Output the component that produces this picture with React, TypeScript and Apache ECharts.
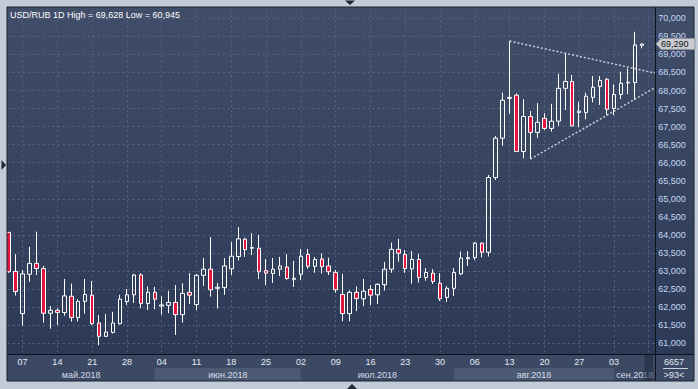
import React, { useEffect, useRef } from 'react';
import * as echarts from 'echarts';

// ---- data (trading days, USD/RUB daily) ----
const dates = [
  '2018-05-03', '2018-05-04',
  '2018-05-07', '2018-05-08', '2018-05-09', '2018-05-10', '2018-05-11',
  '2018-05-14', '2018-05-15', '2018-05-16', '2018-05-17', '2018-05-18',
  '2018-05-21', '2018-05-22', '2018-05-23', '2018-05-24', '2018-05-25',
  '2018-05-28', '2018-05-29', '2018-05-30', '2018-05-31', '2018-06-01',
  '2018-06-04', '2018-06-05', '2018-06-06', '2018-06-07', '2018-06-08',
  '2018-06-11', '2018-06-12', '2018-06-13', '2018-06-14', '2018-06-15',
  '2018-06-18', '2018-06-19', '2018-06-20', '2018-06-21', '2018-06-22',
  '2018-06-25', '2018-06-26', '2018-06-27', '2018-06-28', '2018-06-29',
  '2018-07-02', '2018-07-03', '2018-07-04', '2018-07-05', '2018-07-06',
  '2018-07-09', '2018-07-10', '2018-07-11', '2018-07-12', '2018-07-13',
  '2018-07-16', '2018-07-17', '2018-07-18', '2018-07-19', '2018-07-20',
  '2018-07-23', '2018-07-24', '2018-07-25', '2018-07-26', '2018-07-27',
  '2018-07-30', '2018-07-31', '2018-08-01', '2018-08-02', '2018-08-03',
  '2018-08-06', '2018-08-07', '2018-08-08', '2018-08-09', '2018-08-10',
  '2018-08-13', '2018-08-14', '2018-08-15', '2018-08-16', '2018-08-17',
  '2018-08-20', '2018-08-21', '2018-08-22', '2018-08-23', '2018-08-24',
  '2018-08-27', '2018-08-28', '2018-08-29', '2018-08-30', '2018-08-31',
  '2018-09-03', '2018-09-04', '2018-09-05', '2018-09-06', '2018-09-07',
];

const opens = [
  64.07, 62.99, 61.82, 62.91, 63.21, 63.07, 61.83, 61.91, 61.85, 62.30, 61.71, 62.16, 62.33, 61.56, 61.19, 61.30, 61.54, 62.15, 62.34, 62.89, 62.10, 62.41,
  62.03, 62.05, 62.13, 61.79, 62.41, 62.07, 62.88, 63.05, 62.52, 62.54, 63.06, 63.40, 63.88, 63.63, 63.63, 63.01, 62.93, 63.05, 63.11, 62.77,
  62.91, 63.46, 63.13, 63.33, 63.14, 62.96, 62.35, 61.82, 62.41, 62.23, 62.49, 62.34, 62.62, 63.05, 63.60, 63.46, 63.06, 63.32, 62.82, 62.94, 62.66, 62.27,
  62.52, 62.92, 63.34, 63.37, 63.77, 63.52, 65.59, 66.68, 67.78, 67.87, 66.31, 67.28, 66.84, 67.23, 66.95, 67.15, 68.06, 68.25, 67.39, 67.39, 67.81, 68.11, 68.31,
  67.50, 67.89, 68.21, 68.22, 69.25,
];
const closes = [
  62.98, 62.43, 62.92, 63.21, 63.07, 61.83, 61.91, 61.85, 62.31, 61.71, 62.16, 62.35, 61.54, 61.19, 61.31, 61.56, 62.22, 62.34, 62.89, 62.10, 62.41, 62.22,
  62.06, 62.13, 61.79, 62.38, 62.33, 62.88, 63.05, 62.48, 62.55, 63.14, 63.41, 63.89, 63.59, 63.65, 62.98, 62.94, 63.05, 63.14, 62.79, 62.80,
  63.41, 63.13, 63.32, 63.12, 62.98, 62.48, 61.82, 62.41, 62.24, 62.44, 62.33, 62.63, 63.05, 63.60, 63.49, 63.07, 63.32, 62.82, 62.96, 62.71, 62.23, 62.52,
  62.96, 63.36, 63.37, 63.77, 63.52, 65.59, 66.68, 67.73, 67.81, 66.31, 67.28, 66.84, 67.12, 66.95, 67.15, 68.06, 68.25, 67.02, 67.43, 67.84, 68.09, 68.28, 67.48,
  67.89, 68.20, 68.23, 69.26, 69.29,
];
const lows = [
  62.95, 62.32, 61.49, 62.70, 62.89, 61.57, 61.40, 61.51, 61.76, 61.60, 61.60, 61.82, 61.50, 60.945, 61.17, 61.27, 61.52, 62.06, 62.12, 61.97, 61.92, 61.94,
  61.79, 61.83, 61.23, 61.57, 62.09, 61.92, 62.59, 62.29, 61.96, 62.34, 62.89, 63.29, 63.39, 63.44, 62.78, 62.61, 62.67, 62.86, 62.76, 62.56,
  62.75, 63.06, 62.95, 62.93, 62.89, 62.40, 61.61, 61.61, 61.89, 62.03, 62.06, 62.09, 62.46, 62.95, 63.26, 62.95, 62.65, 62.68, 62.73, 62.64, 62.17, 62.14,
  62.31, 62.89, 63.14, 63.30, 63.38, 63.40, 65.52, 66.47, 67.35, 66.30, 66.12, 66.10, 66.69, 66.91, 66.86, 67.02, 67.46, 67.01, 66.98, 67.20, 67.67, 67.60, 67.32,
  67.32, 67.76, 67.90, 67.74, 69.17,
];
const highs = [
  64.08, 63.47, 63.03, 63.67, 64.09, 63.14, 62.03, 61.97, 62.78, 62.65, 62.22, 62.78, 62.72, 61.78, 61.81, 61.87, 62.34, 62.50, 62.92, 62.94, 62.57, 62.56,
  62.30, 62.45, 62.61, 62.66, 62.94, 62.92, 63.36, 63.94, 62.67, 63.36, 63.80, 64.22, 63.92, 64.05, 64.00, 63.33, 63.36, 63.39, 63.47, 63.28,
  63.61, 63.61, 63.39, 63.49, 63.37, 63.03, 62.92, 62.46, 62.57, 62.78, 62.61, 62.66, 63.25, 63.79, 63.89, 63.58, 63.55, 63.47, 63.08, 63.05, 62.94, 62.58,
  63.08, 63.54, 63.55, 63.80, 63.80, 65.66, 66.74, 67.94, 69.37, 67.92, 67.76, 67.43, 67.65, 67.37, 67.63, 68.46, 69.03, 68.43, 67.69, 67.94, 68.40, 68.40, 68.35,
  68.17, 68.52, 68.61, 69.628, 69.30,
];

// trading-day offset of each candle (first Monday shown = 0)
const dayOffset = dates.map((_, i) => i - 2);

// triangle trend lines: [dayOffset, price]
const upperTrend = [[70, 69.37], [91, 68.48]];
const lowerTrend = [[73, 66.10], [91, 68.09]];

const monthKeys = ['05', '06', '07', '08', '09'];
const monthLabels = ['май.2018', 'июн.2018', 'июл.2018', 'авг.2018', 'сен.2018'];

const titleText = 'USD/RUB 1D High = 69,628 Low = 60,945';
const lastPrice = 69.29;
const footerTop = '6657';
const footerBottom = '>93<';

const FONT = '"Liberation Sans", Arial, sans-serif';
const fmt = (v: number) => v.toFixed(3).replace('.', ',');

export default function App() {
  const ref = useRef<HTMLDivElement>(null);

  useEffect(() => {
    const el = ref.current;
    if (!el) return;
    const chart = echarts.init(el, null, { renderer: 'svg' });

    const candles = dates.map((_, i) => [dayOffset[i], opens[i], closes[i], lows[i], highs[i]]);

    chart.setOption({
      animation: false,
      backgroundColor: '#35425e',
      grid: {
        left: -12.2,
        right: 42.3,
        top: 0.25,
        bottom: 27.75,
        containLabel: false,
        outerBoundsMode: 'none',
      },
      xAxis: [
        {
          type: 'value',
          min: -5,
          max: 91,
          interval: 5,
          axisLine: { show: false },
          axisTick: { show: false },
          axisLabel: { show: false },
          splitLine: { show: true, lineStyle: { color: '#56647f', type: [2, 3], width: 1 } },
        },
        {
          type: 'value',
          position: 'bottom',
          offset: -7.25,
          min: -5,
          max: 91,
          interval: 5,
          z: 10,
          axisLine: { show: false, onZero: false },
          axisTick: { show: false },
          splitLine: { show: false },
          axisLabel: {
            show: true,
            margin: 3,
            color: '#e6ebf3',
            fontSize: 9,
            fontFamily: FONT,
            showMinLabel: false,
            showMaxLabel: false,
            formatter: (v: number) => {
              const d = dates[Math.round(v) + 2];
              return d ? d.slice(8) : '';
            },
          },
        },
      ],
      yAxis: {
        type: 'value',
        position: 'right',
        min: 60.5,
        max: 70.5,
        interval: 0.5,
        axisLine: { show: false },
        axisTick: { show: false },
        splitLine: { show: true, lineStyle: { color: '#56647f', type: [2, 3], width: 1 } },
        axisLabel: {
          margin: 2.5,
          color: '#c4d7f2',
          fontSize: 9,
          fontFamily: FONT,
          showMinLabel: false,
          showMaxLabel: false,
          formatter: (v: number) => fmt(v),
        },
      },
      series: [
        {
          type: 'candlestick',
          data: candles,
          encode: { x: 0, y: [1, 2, 3, 4] },
          barWidth: 4,
          itemStyle: {
            color: 'rgba(0,0,0,0)',
            color0: '#e2173f',
            borderColor: '#ffffff',
            borderColor0: '#ffffff',
            borderWidth: 1,
          },
          markLine: {
            silent: true,
            symbol: ['none', 'none'],
            label: { show: false },
            lineStyle: { color: '#c9cdd4', type: [2, 2], width: 1.5 },
            data: [
              [{ coord: upperTrend[0] }, { coord: upperTrend[1] }],
              [{ coord: lowerTrend[0] }, { coord: lowerTrend[1] }],
            ],
          },
        },
      ],
    });

    const px = (v: number) => chart.convertToPixel({ xAxisIndex: 0 }, v) as unknown as number;
    const py = (v: number) => chart.convertToPixel({ yAxisIndex: 0 }, v) as unknown as number;

    const PL = 7.5, PR = 655.5, AX = 354, BB = 381, FR = 694;

    const elements: any[] = [];
    // background
    elements.push({
      type: 'rect', z: -10,
      shape: { x: 0, y: 0, width: 698, height: 389 },
      style: {
        fill: new echarts.graphic.LinearGradient(0, 0, 0, 1, [
          { offset: 0, color: '#414e6a' },
          { offset: 1, color: '#2b3855' },
        ]),
      },
    });
    // label band
    elements.push({
      type: 'rect', z: 5,
      shape: { x: PL, y: AX, width: FR - PL, height: BB - AX },
      style: { fill: '#3c4964' },
    });
    // month bands
    const starts = monthKeys.map((m) => dates.findIndex((d) => d.slice(5, 7) === m));
    starts.forEach((s, k) => {
      const x0 = k === 0 ? PL : px(dayOffset[s]);
      const x1 = k === starts.length - 1 ? PR : px(dayOffset[starts[k + 1]]);
      if (k % 2 === 1) {
        elements.push({
          type: 'rect', z: 6,
          shape: { x: x0, y: 368, width: x1 - x0, height: BB - 368 },
          style: { fill: '#4b5973' },
        });
      }
      elements.push({
        type: 'text', z: 11,
        style: {
          text: monthLabels[k], x: (x0 + x1) / 2, y: 374.5,
          fill: '#d6dde8', fontSize: 9, fontFamily: FONT, align: 'center', verticalAlign: 'middle',
        },
      });
    });
    // dark strip at end of band
    elements.push({
      type: 'rect', z: 12,
      shape: { x: 644.5, y: AX, width: 8.5, height: BB - AX },
      style: { fill: 'rgba(30,40,60,0.55)' },
    });
    // axis border lines
    elements.push({
      type: 'line', z: 13,
      shape: { x1: PL, y1: AX + 0.5, x2: FR, y2: AX + 0.5 },
      style: { stroke: '#0e1119', lineWidth: 1 },
    });
    elements.push({
      type: 'line', z: 13,
      shape: { x1: PR, y1: 7, x2: PR, y2: BB },
      style: { stroke: '#0e1119', lineWidth: 1 },
    });
    // footer box
    elements.push({
      type: 'text', z: 13,
      style: { text: footerTop, x: 674, y: 361.7, fill: '#e0e6ef', fontSize: 9, fontFamily: FONT, align: 'center', verticalAlign: 'middle' },
    });
    elements.push({
      type: 'line', z: 13,
      shape: { x1: 663, y1: 368.5, x2: 688, y2: 368.5 },
      style: { stroke: '#c8d0dc', lineWidth: 1 },
    });
    elements.push({
      type: 'text', z: 13,
      style: { text: footerBottom, x: 674, y: 374.5, fill: '#e0e6ef', fontSize: 9, fontFamily: FONT, align: 'center', verticalAlign: 'middle' },
    });
    // frame
    const frame = '#c2ccd8';
    elements.push({ type: 'rect', z: 20, shape: { x: 0, y: 0, width: 698, height: 7 }, style: { fill: frame } });
    elements.push({ type: 'rect', z: 20, shape: { x: 0, y: 0, width: 7, height: 389 }, style: { fill: frame } });
    elements.push({ type: 'rect', z: 20, shape: { x: FR, y: 0, width: 698 - FR, height: 389 }, style: { fill: frame } });
    elements.push({ type: 'rect', z: 20, shape: { x: 0, y: BB, width: 698, height: 389 - BB }, style: { fill: frame } });
    elements.push({
      type: 'rect', z: 21,
      shape: { x: 7, y: 7, width: FR - 7, height: BB - 7 },
      style: { fill: 'none', stroke: '#1a2030', lineWidth: 1 },
    });
    // arrows
    elements.push({ type: 'polygon', z: 22, shape: { points: [[345, 0.5], [355, 0.5], [350, 5]] }, style: { fill: '#1f2533' } });
    elements.push({ type: 'polygon', z: 22, shape: { points: [[1.5, 160], [1.5, 170], [6, 165]] }, style: { fill: '#1f2533' } });
    elements.push({ type: 'polygon', z: 22, shape: { points: [[347, 389], [357, 389], [352, 384]] }, style: { fill: '#1f2533' } });
    // title
    elements.push({
      type: 'text', z: 22,
      style: { text: titleText, x: 10, y: 15, fill: '#ffffff', fontSize: 9, fontFamily: FONT, align: 'left', verticalAlign: 'middle' },
    });
    // last price tag
    const ty = py(lastPrice);
    elements.push({
      type: 'polygon', z: 25,
      shape: { points: [[656, ty], [661, ty - 5.5], [695, ty - 5.5], [695, ty + 5.5], [661, ty + 5.5]] },
      style: { fill: '#c9ccd3', stroke: '#8e949e', lineWidth: 1 },
    });
    elements.push({
      type: 'text', z: 26,
      style: { text: fmt(lastPrice), x: 661, y: ty, fill: '#151515', fontSize: 9, fontFamily: FONT, align: 'left', verticalAlign: 'middle' },
    });

    chart.setOption({ graphic: { elements } });

    return () => chart.dispose();
  }, []);

  return <div ref={ref} style={{ position: 'fixed', left: 0, top: 0, width: 698, height: 389 }} />;
}
